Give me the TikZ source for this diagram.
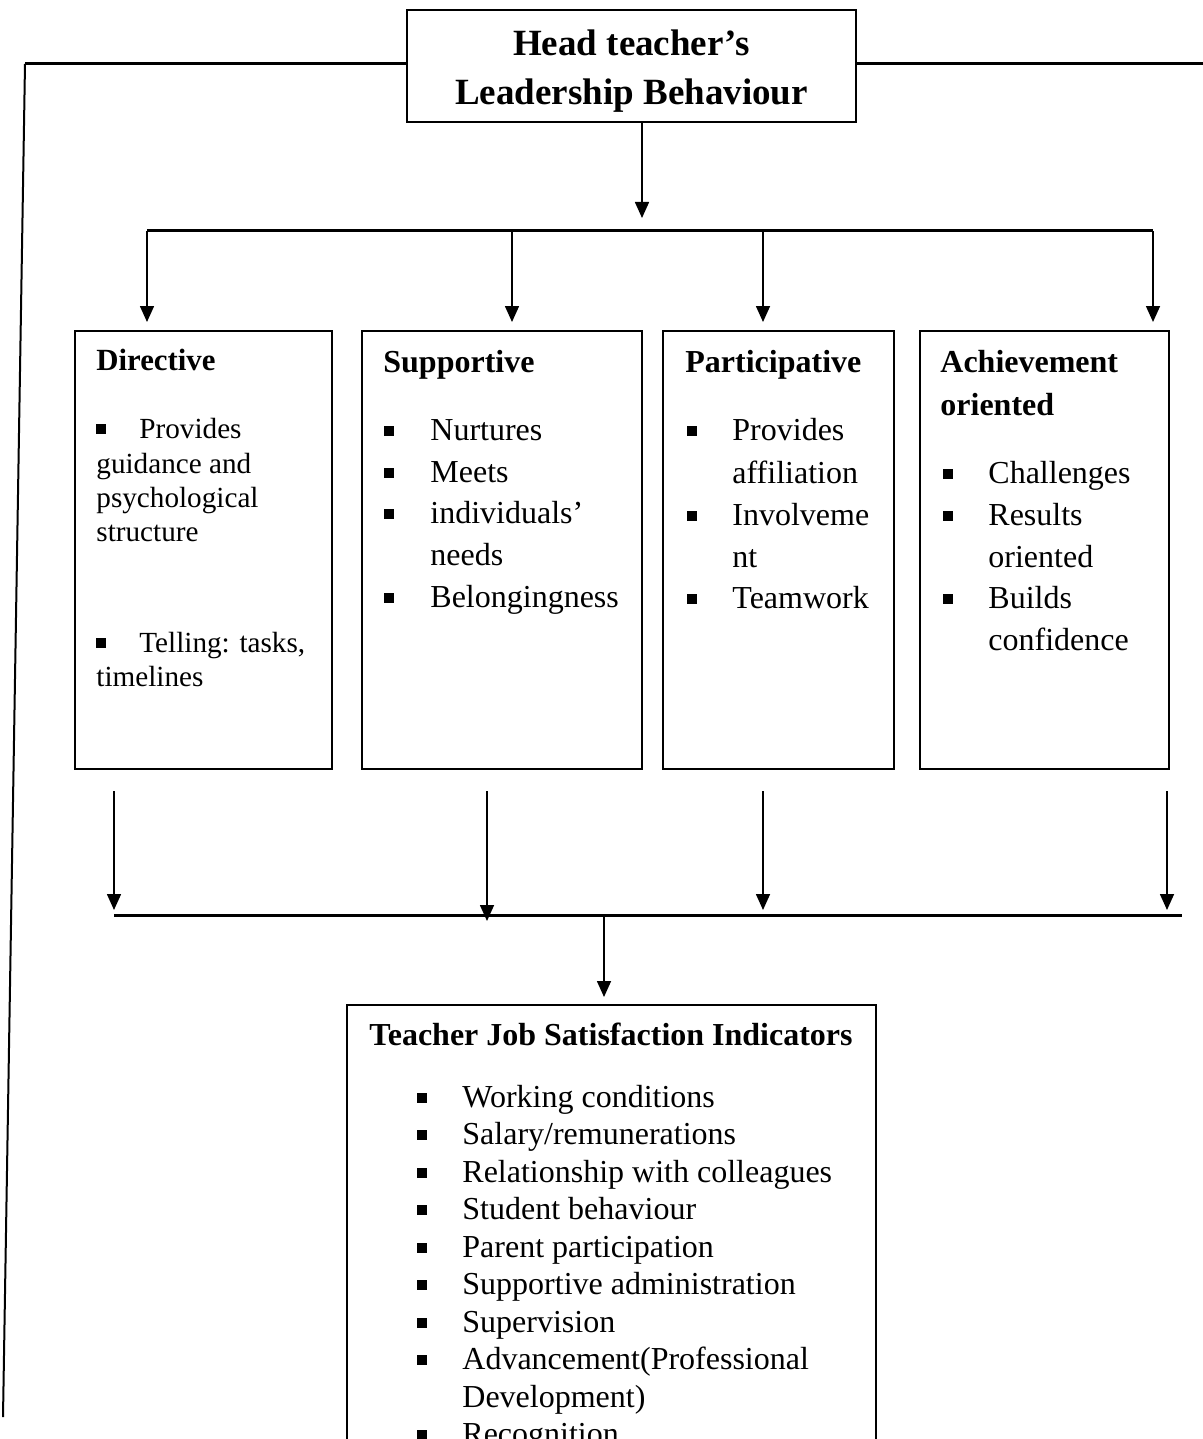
\documentclass[tikz,border=0pt]{standalone}
\usepackage{fontspec}
\setmainfont{Liberation Serif}
\usetikzlibrary{arrows.meta,fit}
\newcommand\txline[4]{\node[txt] (#1) at (#2,#3) {#4};}
\newcommand\dxline[4]{\node[dtxt] (#1) at (#2,#3) {#4};}
\newcommand\ttline[4]{\node[ttl] (#1) at (#2,#3) {#4};}
\newcommand\bulat[3]{\node[bul] (#1) at (#2,#3-9.5) {};}
\begin{document}
\begin{tikzpicture}[x=0.5pt,y=-0.5pt,
  box/.style={draw, line width=1pt, inner sep=0pt},
  bus/.style={line width=1.5pt},
  conn/.style={line width=0.8pt},
  arr/.style={conn, -{Triangle[width=7pt,length=8pt]}},
  txt/.style={anchor=base west, inner sep=0pt, font=\fontsize{16pt}{18pt}\selectfont},
  dtxt/.style={anchor=base west, inner sep=0pt, font=\fontsize{14.6pt}{17pt}\selectfont},
  ttl/.style={anchor=base west, inner sep=0pt, font=\fontsize{16pt}{18pt}\selectfont\bfseries},
  big/.style={anchor=base, inner sep=0pt, font=\fontsize{18.5pt}{22pt}\selectfont\bfseries},
  bul/.style={fill, inner sep=0pt, minimum size=5pt}]
\useasboundingbox (0,0) rectangle (1203,1439);
\clip (0,0) rectangle (1203,1439);

% boxes
\node[box, fit={(407,10)(856,122)}] (top) {};
\node[box, fit={(75,331)(332,769)}] (dir) {};
\node[box, fit={(362,331)(642,769)}] (sup) {};
\node[box, fit={(663,331)(894,769)}] (par) {};
\node[box, fit={(920,331)(1169,769)}] (ach) {};
\node[box, fit={(347,1005)(876,1480)}] (jsi) {};

% top title
\node[big] (t1) at (631.5,56) {Head teacher’s};
\node[big] (t2) at (631.5,105) {Leadership Behaviour};

% outer lines
\coordinate (lc) at (25,64);
\coordinate (le) at (3,1417);
\coordinate (rc) at (1203,64);
\draw[bus] (top.west |- lc) -- (lc);
\draw[line width=1pt] (lc) -- (le);
\draw[bus] (top.east |- rc) -- (rc);

% top distribution
\coordinate (ta) at (642,218);
\draw[arr] (top.south -| ta) -- (ta);
\coordinate (bl) at (147,231);
\coordinate (br) at (1153,231);
\coordinate (bB) at (512,231);
\coordinate (bC) at (763,231);
\draw[bus] (bl) -- (br);
\draw[arr, shorten >=4pt] (bl) -- (bl |- dir.north);
\draw[arr, shorten >=4pt] (bB) -- (bB |- sup.north);
\draw[arr, shorten >=4pt] (bC) -- (bC |- par.north);
\draw[arr, shorten >=4pt] (br) -- (br |- ach.north);

% lower collection
\coordinate (ml) at (114,915);
\coordinate (mr) at (1182,915);
\draw[bus] (ml) -- (mr);
\coordinate (eA) at (114,910);
\coordinate (eB) at (487,921);
\coordinate (eC) at (763,910);
\coordinate (eD) at (1167,910);
\draw[arr, shorten <=10.5pt] (dir.south -| eA) -- (eA);
\draw[arr, shorten <=10.5pt] (sup.south -| eB) -- (eB);
\draw[arr, shorten <=10.5pt] (par.south -| eC) -- (eC);
\draw[arr, shorten <=10.5pt] (ach.south -| eD) -- (eD);
\coordinate (mid) at (604,915);
\draw[arr, shorten >=3.5pt] (mid) -- (mid |- jsi.north);

% Directive
\node[ttl, font=\fontsize{15.4pt}{18pt}\selectfont\bfseries] (dT) at (96,370) {Directive};
\bulat{dB1}{101}{438}
\dxline{d1}{139}{438}{Provides}
\dxline{d2}{96}{473}{guidance and}
\dxline{d3}{96}{507}{psychological}
\dxline{d4}{96}{541}{structure}
\bulat{dB2}{101}{652}
\dxline{d5}{139}{652}{Telling: tasks,}
\dxline{d6}{96}{686}{timelines}

% Supportive
\ttline{sT}{383}{372}{Supportive}
\bulat{sB1}{389}{440}
\txline{s1}{430}{440}{Nurtures}
\bulat{sB2}{389}{482}
\txline{s2}{430}{482}{Meets}
\bulat{sB3}{389}{523}
\txline{s3}{430}{523}{individuals’}
\txline{s4}{430}{565}{needs}
\bulat{sB4}{389}{607}
\txline{s5}{430}{607}{Belongingness}

% Participative
\ttline{pT}{685}{372}{Participative}
\bulat{pB1}{692}{440}
\txline{p1}{732}{440}{Provides}
\txline{p2}{732}{483}{affiliation}
\bulat{pB2}{692}{525}
\txline{p3}{732}{525}{Involveme}
\txline{p4}{732}{567}{nt}
\bulat{pB3}{692}{608}
\txline{p5}{732}{608}{Teamwork}

% Achievement oriented
\ttline{aT1}{940}{372}{Achievement}
\ttline{aT2}{940}{415}{oriented}
\bulat{aB1}{948}{483}
\txline{a1}{988}{483}{Challenges}
\bulat{aB2}{948}{525}
\txline{a2}{988}{525}{Results}
\txline{a3}{988}{567}{oriented}
\bulat{aB3}{948}{608}
\txline{a4}{988}{608}{Builds}
\txline{a5}{988}{650}{confidence}

% Teacher Job Satisfaction Indicators
\node[ttl, anchor=base] (jT) at (611,1045) {Teacher Job Satisfaction Indicators};
\bulat{jB1}{422}{1107}
\txline{j1}{462}{1107}{Working conditions}
\bulat{jB2}{422}{1144.5}
\txline{j2}{462}{1144.5}{Salary/remunerations}
\bulat{jB3}{422}{1182}
\txline{j3}{462}{1182}{Relationship with colleagues}
\bulat{jB4}{422}{1219.5}
\txline{j4}{462}{1219.5}{Student behaviour}
\bulat{jB5}{422}{1257}
\txline{j5}{462}{1257}{Parent participation}
\bulat{jB6}{422}{1294.5}
\txline{j6}{462}{1294.5}{Supportive administration}
\bulat{jB7}{422}{1332}
\txline{j7}{462}{1332}{Supervision}
\bulat{jB8}{422}{1369.5}
\txline{j8}{462}{1369.5}{Advancement(Professional}
\txline{j9}{462}{1407}{Development)}
\bulat{jB9}{422}{1444.5}
\txline{j10}{462}{1444.5}{Recognition}
\end{tikzpicture}
\end{document}
